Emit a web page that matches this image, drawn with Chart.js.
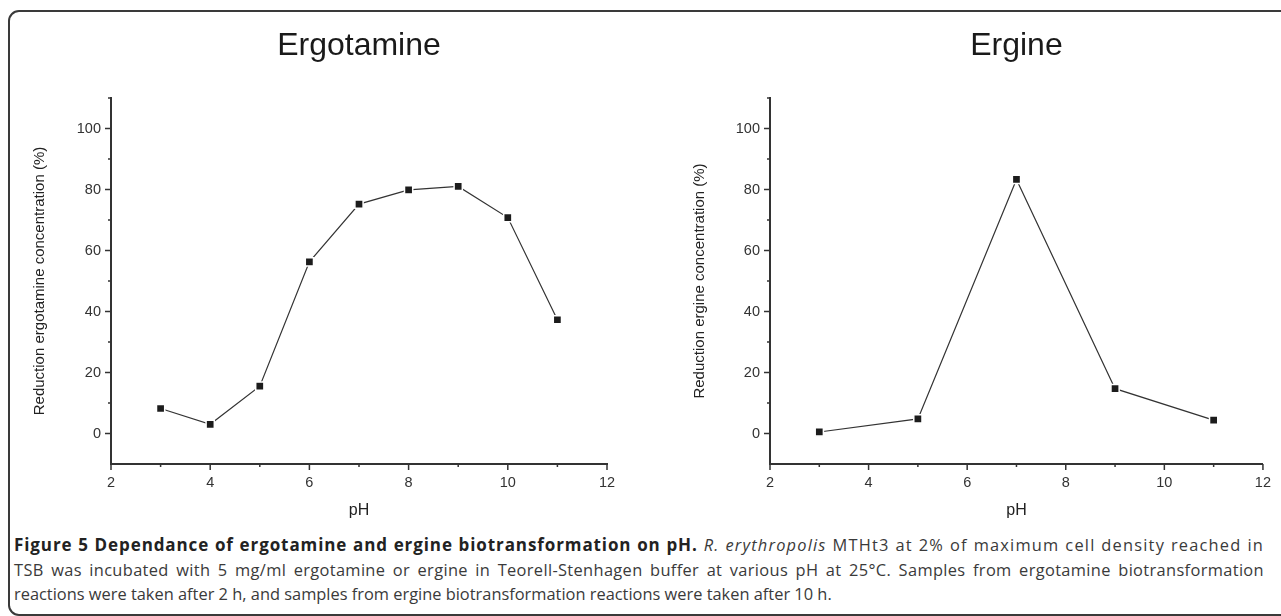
<!DOCTYPE html>
<html>
<head>
<meta charset="utf-8">
<script src="https://cdn.jsdelivr.net/npm/chart.js@4/dist/chart.umd.min.js"></script>
<style>
  html, body { margin: 0; padding: 0; background: #fff; }
  body { width: 1281px; height: 616px; position: relative; overflow: hidden; }
  .frame {
    position: absolute; left: 8px; top: 10px; width: 1320px; height: 602px;
    border: 2px solid #3a3a3a; border-radius: 11px;
  }
  .plot { position: absolute; top: 0; }
  #leftWrap { left: 0; width: 640px; height: 530px; }
  #rightWrap { left: 640px; width: 641px; height: 530px; }
  .caption {
    position: absolute; left: 14px; top: 533px; width: 1250px;
    font-family: "Open Sans", sans-serif; font-size: 16.4px; line-height: 24.5px;
    color: #3a3a3a;
  }
  .caption .full { text-align: justify; text-align-last: justify; }
  .caption .l1 { letter-spacing: 1.2px; }
  .caption .l1 b { font-size: 17px; letter-spacing: 0.9px; }
  .caption .l2 { letter-spacing: 0.35px; }
  .caption b { color: #222; }
</style>
</head>
<body>
<div class="frame"></div>
<div class="plot" id="leftWrap"><canvas id="chartLeft"></canvas></div>
<div class="plot" id="rightWrap"><canvas id="chartRight"></canvas></div>
<div class="caption">
<div class="full l1"><b>Figure 5 Dependance of ergotamine and ergine biotransformation on pH.</b> <i>R. erythropolis</i> MTHt3 at 2% of maximum cell density reached in</div>
<div class="full l2">TSB was incubated with 5 mg/ml ergotamine or ergine in Teorell-Stenhagen buffer at various pH at 25°C. Samples from ergotamine biotransformation</div>
<div>reactions were taken after 2 h, and samples from ergine biotransformation reactions were taken after 10 h.</div>
</div>
<script>
// Ergotamine panel
const phErgotamine = [3, 4, 5, 6, 7, 8, 9, 10, 11];
const reductionErgotamine = [8.2, 3.0, 15.5, 56.3, 75.2, 79.9, 81.0, 70.8, 37.3];

// Ergine panel
const phErgine = [3, 5, 7, 9, 11];
const reductionErgine = [0.5, 4.8, 83.3, 14.7, 4.4];

// axis labels
const xLabeledTicks = [2, 4, 6, 8, 10, 12];
const yLabeledTicks = [0, 20, 40, 60, 80, 100];

const axisColor = '#333';
const fontFamily = '"Liberation Sans", Arial, sans-serif';

// draws major / minor tick marks outside the axes
const tickMarks = {
  id: 'tickMarks',
  afterDraw(chart) {
    const ctx = chart.ctx;
    const xs = chart.scales.x, ys = chart.scales.y;
    ctx.save();
    ctx.strokeStyle = axisColor;
    ctx.lineWidth = 1.5;
    xs.ticks.forEach(t => {
      const px = xs.getPixelForValue(t.value);
      const len = xLabeledTicks.includes(t.value) ? 6 : 3;
      ctx.beginPath();
      ctx.moveTo(px, xs.top);
      ctx.lineTo(px, xs.top + len);
      ctx.stroke();
    });
    ys.ticks.forEach(t => {
      if (t.value === ys.min) return;
      const py = ys.getPixelForValue(t.value);
      const len = yLabeledTicks.includes(t.value) ? 6 : 3;
      ctx.beginPath();
      ctx.moveTo(ys.right, py);
      ctx.lineTo(ys.right - len, py);
      ctx.stroke();
    });
    ctx.restore();
  }
};

function makePanel(canvasId, title, yTitle, xs, ys, opts) {
  const ctx = document.getElementById(canvasId).getContext('2d');
  return new Chart(ctx, {
    type: 'line',
    data: {
      datasets: [{
        data: xs.map((x, i) => ({ x: x, y: ys[i] })),
        borderColor: '#333',
        borderWidth: 1.2,
        tension: 0,
        pointStyle: 'rect',
        pointRadius: 5.8,
        pointBackgroundColor: '#1c1c1c',
        pointBorderColor: '#fff',
        pointBorderWidth: 1.5
      }]
    },
    options: {
      responsive: true,
      maintainAspectRatio: false,
      animation: false,
      layout: { padding: { left: 0, right: opts.padRight, top: 0, bottom: 0 } },
      plugins: {
        legend: { display: false },
        tooltip: { enabled: false },
        title: {
          display: true,
          text: title,
          fullSize: false,
          color: '#1a1a1a',
          font: { family: fontFamily, size: 32, weight: 'normal', lineHeight: 1 },
          padding: { top: 30, bottom: 36 }
        }
      },
      scales: {
        x: {
          type: 'linear',
          min: 2, max: 12,
          afterFit: s => { s.height = 66; },
          border: { color: axisColor, width: 2 },
          grid: { display: true, drawOnChartArea: false, drawTicks: false },
          ticks: {
            stepSize: 1, autoSkip: false, maxRotation: 0, padding: 10,
            color: '#333', font: { family: fontFamily, size: 14.5 },
            callback: v => xLabeledTicks.includes(v) ? v : ''
          },
          title: {
            display: true, text: 'pH', color: '#222',
            font: { family: fontFamily, size: 16 },
            padding: { top: 0, bottom: 10 }
          }
        },
        y: {
          min: -10, max: 110,
          afterFit: s => { s.width = opts.yWidth; },
          border: { color: axisColor, width: 2 },
          grid: { display: true, drawOnChartArea: false, drawTicks: false },
          ticks: {
            stepSize: 10, autoSkip: false, padding: 10,
            color: '#333', font: { family: fontFamily, size: 14.5 },
            callback: v => yLabeledTicks.includes(v) ? v : ''
          },
          title: {
            display: true, text: yTitle, color: '#222',
            font: { family: fontFamily, size: 15 },
            padding: { top: opts.yTitlePad, bottom: 0 }
          }
        }
      }
    },
    plugins: [tickMarks]
  });
}

makePanel('chartLeft', 'Ergotamine', 'Reduction ergotamine concentration (%)',
  phErgotamine, reductionErgotamine, { yWidth: 111, padRight: 33, yTitlePad: 31 });
makePanel('chartRight', 'Ergine', 'Reduction ergine concentration (%)',
  phErgine, reductionErgine, { yWidth: 130, padRight: 16, yTitlePad: 51 });
</script>
</body>
</html>
